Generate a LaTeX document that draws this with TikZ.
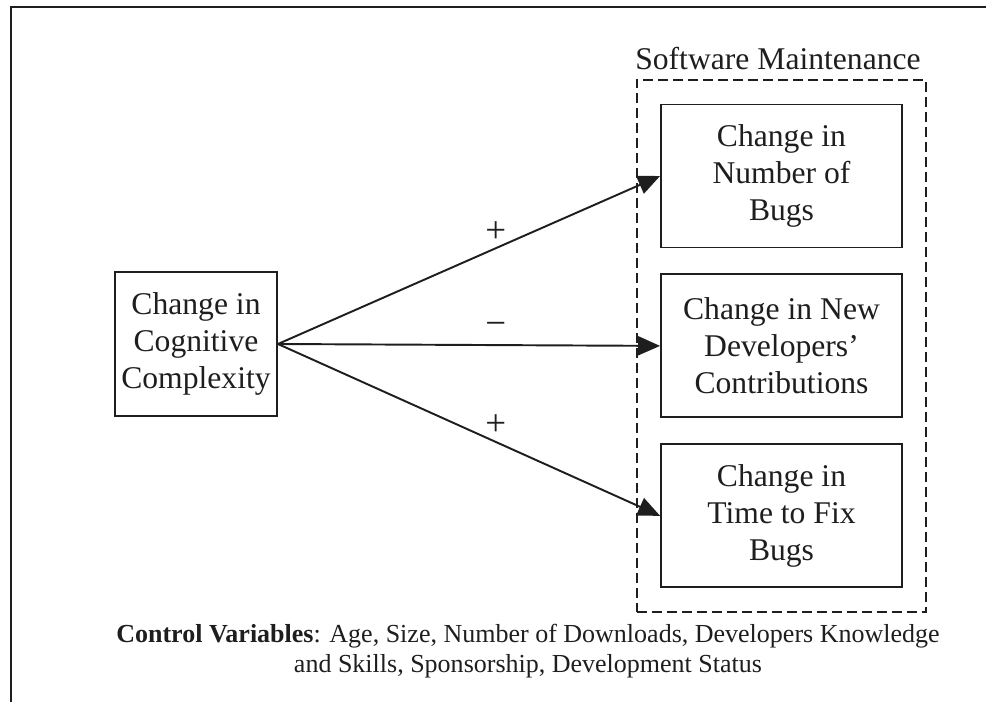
\documentclass[tikz,border=0pt]{standalone}
\usepackage{fontspec}
\setmainfont{Liberation Serif}
\usetikzlibrary{arrows.meta,positioning,fit}
\definecolor{ink}{RGB}{30,30,30}
\tikzset{
  varbox/.style={draw=ink,line width=1.1pt,text=ink,align=center,inner sep=0pt,
    font=\fontsize{18}{21}\selectfont},
  effect/.style={varbox,minimum width=4.82cm,minimum height=2.86cm},
  link/.style={draw=ink,line width=1.1pt,-{Triangle[length=0.44cm,width=0.38cm]}},
  sign/.style={text=ink,font=\fontsize{21}{24}\selectfont},
}

\begin{document}
\begin{tikzpicture}[x=0.02cm,y=-0.02cm]
        \useasboundingbox (0,0) rectangle (986,702);
        \draw[ink,line width=1.1pt] (986,7) -- (11,7) -- (11,702);
        \node[varbox,minimum width=3.24cm,minimum height=2.88cm] (cogcx) at (196,344) {Change in\\Cognitive\\Complexity};
        % outcome boxes
        \node[effect] (bugs) at (781.5,176) {Change in\\Number of\\Bugs};
        \node[effect,below=0.5cm of bugs] (newdev) {Change in New\\Developers'\\Contributions};
        \node[effect,below=0.5cm of newdev] (fixtime) {Change in\\Time to Fix\\Bugs};
        \node[draw=ink,line width=1.1pt,dash pattern=on 0.2cm off 0.1cm,inner sep=0.47cm,fit=(bugs)(fixtime)] (maint) {};
        \node[varbox,draw=none,anchor=base] (maintlbl) at (778,70) {Software Maintenance};
        \foreach \t/\s in {bugs/+,newdev/−,fixtime/+}{
          \draw[link] (cogcx.east) -- (\t.west) node[sign,pos=0.57,yshift=0.33cm] {\s};
        }
        \node[text=ink,align=center,font=\fontsize{14.8}{17.4}\selectfont] (ctrl) at (528,651)
          {\textbf{Control Variables}: Age, Size, Number of Downloads, Developers Knowledge\\and Skills, Sponsorship, Development Status};
      \end{tikzpicture}
\end{document}
